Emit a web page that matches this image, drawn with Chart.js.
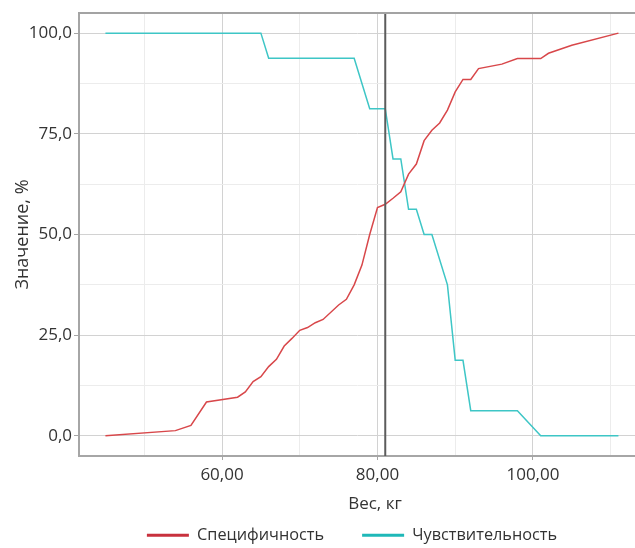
<!DOCTYPE html>
<html>
<head>
<meta charset="utf-8">
<script src="https://cdn.jsdelivr.net/npm/chart.js"></script>
<style>
  html, body { margin: 0; padding: 0; background: #fff; }
  .chart-box { width: 635px; height: 548px; position: relative; }
</style>
</head>
<body>
<div class="chart-box"><canvas id="chart"></canvas></div>

<script>
  // Специфичность
  const SPEC_X = [45, 54, 56, 58, 62, 63, 64, 65, 66, 67, 68, 69, 70, 71, 72, 73, 75, 76, 77, 78, 79, 80, 81, 82, 83, 84, 85, 86, 87, 88, 89, 90, 91, 92, 93, 96, 98, 101, 102, 105, 111];
  const SPEC_Y = [0, 1.3, 2.6, 8.4, 9.6, 10.9, 13.5, 14.7, 17.2, 19.0, 22.3, 24.2, 26.2, 26.9, 28.1, 28.9, 32.5, 33.9, 37.5, 42.4, 50.0, 56.7, 57.5, 59.0, 60.6, 65.0, 67.5, 73.3, 75.9, 77.7, 80.9, 85.4, 88.5, 88.5, 91.2, 92.3, 93.7, 93.7, 95.0, 97.0, 100];
  // Чувствительность
  const SENS_X = [45, 65, 66, 77, 79, 81, 82, 83, 84, 85, 86, 87, 89, 90, 91, 92, 98, 101, 111];
  const SENS_Y = [100, 100, 93.75, 93.75, 81.25, 81.25, 68.75, 68.75, 56.25, 56.25, 50, 50, 37.5, 18.75, 18.75, 6.25, 6.25, 0, 0];

  const SERIES_NAMES = ['Специфичность', 'Чувствительность'];
  const CUTOFF = 81;
  const X_TICKS = [50, 60, 70, 80, 90, 100, 110];
  const Y_TICKS = [0, 12.5, 25, 37.5, 50, 62.5, 75, 87.5, 100];
  const X_TITLE = 'Вес, кг';
  const Y_TITLE = 'Значение, %';

  const LINE_COLORS = ['#d8474a', '#3ec6c6'];
  const LEGEND_COLORS = ['#c8313d', '#1fb8b8'];

  Chart.defaults.font.family = "'Open Sans', sans-serif";
  Chart.defaults.font.size = 17;
  Chart.defaults.color = '#333';

  const toPoints = (xs, ys) => xs.map((x, i) => ({ x: x, y: ys[i] }));

  const gridColor = (list, major) => c => {
    if (!c.tick || !list.includes(c.tick.value)) return 'rgba(0,0,0,0)';
    return c.tick.value % major === 0 ? '#d2d2d2' : '#ececec';
  };
  const tickColor = (list, major) => c =>
    c.tick && list.includes(c.tick.value) && c.tick.value % major === 0 ? '#a6a6a6' : 'rgba(0,0,0,0)';

  // рамка сверху, линия отсечки, подпись оси X, сдвиг легенды
  const extras = {
    id: 'extras',
    beforeInit(chart) {
      const fit = chart.legend.fit;
      chart.legend.fit = function () { fit.call(this); this.height = 59; };
    },
    afterLayout(chart) {
      chart.legend.left -= 5;
      chart.legend.right -= 5;
    },
    afterDatasetsDraw(chart) {
      const { ctx, chartArea, scales } = chart;
      const px = scales.x.getPixelForValue(CUTOFF);
      ctx.save();
      ctx.strokeStyle = '#5c5c5c';
      ctx.lineWidth = 2;
      ctx.beginPath();
      ctx.moveTo(px, chartArea.top);
      ctx.lineTo(px, chartArea.bottom);
      ctx.stroke();
      ctx.strokeStyle = '#a3a3a3';
      ctx.beginPath();
      ctx.moveTo(chartArea.left - 1, chartArea.top);
      ctx.lineTo(chart.width, chartArea.top);
      ctx.stroke();
      ctx.restore();
    },
    afterDraw(chart) {
      const { ctx } = chart;
      ctx.save();
      ctx.font = "17px 'Open Sans', sans-serif";
      ctx.fillStyle = '#333';
      ctx.textAlign = 'center';
      ctx.textBaseline = 'middle';
      ctx.fillText(X_TITLE, 375, 504);
      ctx.restore();
    }
  };

  new Chart(document.getElementById('chart'), {
    type: 'line',
    data: {
      datasets: [
        { label: SERIES_NAMES[0], data: toPoints(SPEC_X, SPEC_Y), borderColor: LINE_COLORS[0], borderWidth: 1.5, pointRadius: 0, tension: 0 },
        { label: SERIES_NAMES[1], data: toPoints(SENS_X, SENS_Y), borderColor: LINE_COLORS[1], borderWidth: 1.5, pointRadius: 0, tension: 0 }
      ]
    },
    options: {
      responsive: true, maintainAspectRatio: false, animation: false,
      layout: { padding: { top: 13, right: 0, left: 0, bottom: 0 } },
      plugins: {
        tooltip: { enabled: false },
        legend: {
          position: 'bottom', fullSize: false,
          labels: {
            boxWidth: 42, boxHeight: 3, padding: 38, color: '#333', font: { size: 16.3 },
            generateLabels: chart => Chart.defaults.plugins.legend.labels.generateLabels(chart).map((l, i) => {
              l.fillStyle = LEGEND_COLORS[i]; l.strokeStyle = LEGEND_COLORS[i]; l.lineWidth = 0;
              return l;
            })
          }
        }
      },
      scales: {
        x: {
          type: 'linear', min: 41.6, max: 113.13,
          afterBuildTicks: s => { s.ticks = X_TICKS.map(v => ({ value: v })); },
          afterFit: s => { s.height = 33; },
          ticks: { padding: 5, maxRotation: 0, callback: v => v % 20 === 0 ? v.toFixed(2).replace('.', ',') : '' },
          grid: { color: gridColor(X_TICKS, 20), tickColor: tickColor(X_TICKS, 20), tickLength: 4 },
          border: { color: '#a6a6a6', width: 2 }
        },
        y: {
          type: 'linear', min: -5, max: 105,
          afterBuildTicks: s => { s.ticks = Y_TICKS.map(v => ({ value: v })); },
          afterFit: s => { s.width = 79; },
          ticks: { padding: 2, callback: v => v % 25 === 0 ? v.toFixed(1).replace('.', ',') : '' },
          grid: { color: gridColor(Y_TICKS, 25), tickColor: tickColor(Y_TICKS, 25), tickLength: 5 },
          border: { color: '#a6a6a6', width: 2 },
          title: { display: true, text: Y_TITLE, font: { size: 18 }, padding: { top: 12, bottom: 0 } }
        }
      }
    },
    plugins: [extras]
  });
</script>
</body>
</html>
